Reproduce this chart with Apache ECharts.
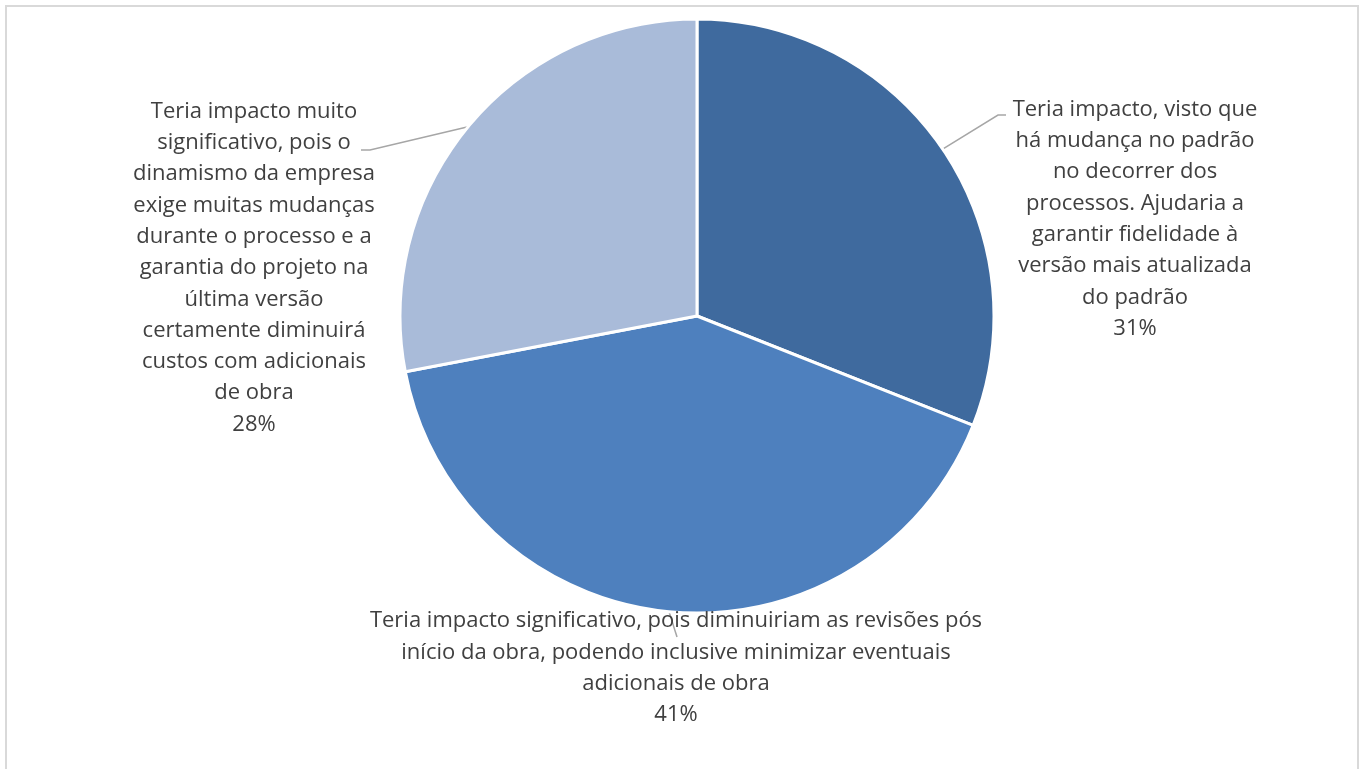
<!DOCTYPE html>
<html>
<head>
<meta charset="utf-8">
<script src="https://cdn.jsdelivr.net/npm/echarts@6/dist/echarts.min.js"></script>
<style>
  html, body { margin: 0; padding: 0; background: #ffffff; }
  #chart { width: 1363px; height: 769px; }
</style>
</head>
<body>
<div id="chart"></div>
<script>
// Answer categories (line breaks follow the wrapped label text)
const categories = [
  'Teria impacto, visto que\nhá mudança no padrão\nno decorrer dos\nprocessos. Ajudaria a\ngarantir fidelidade à\nversão mais atualizada\ndo padrão',
  'Teria impacto significativo, pois diminuiriam as revisões pós\ninício da obra, podendo inclusive minimizar eventuais\nadicionais de obra',
  'Teria impacto muito\nsignificativo, pois o\ndinamismo da empresa\nexige muitas mudanças\ndurante o processo e a\ngarantia do projeto na\núltima versão\ncertamente diminuirá\ncustos com adicionais\nde obra'
];
// Share of responses (%)
const shares = [31, 41, 28];
const sliceColors = ['#3f6a9e', '#4e80be', '#a9bbd9'];

// Label anchor (centre of text block) and leader-line bend points, per slice
const labelPlacement = [
  { x: 1135, y: 219, line: [[998, 115], [1006, 115]] },
  { x: 676, y: 668, line: [[677, 637]] },
  { x: 254, y: 268, line: [[370, 150], [361, 150]] }
];

const chart = echarts.init(document.getElementById('chart'), null, { renderer: 'canvas' });

chart.setOption({
  backgroundColor: '#ffffff',
  animation: false,
  graphic: [{
    type: 'rect',
    shape: { x: 6, y: 6, width: 1352, height: 800 },
    style: { fill: 'none', stroke: '#d9d9d9', lineWidth: 2 },
    silent: true,
    z: -1
  }],
  series: [{
    type: 'pie',
    center: [697, 316],
    radius: 297,
    startAngle: 90,
    clockwise: true,
    data: categories.map((name, i) => ({
      name: name,
      value: shares[i],
      itemStyle: { color: sliceColors[i] }
    })),
    itemStyle: { borderColor: '#ffffff', borderWidth: 3 },
    label: {
      show: true,
      position: 'outside',
      formatter: p => p.name + '\n' + p.value + '%',
      color: '#404040',
      fontFamily: 'Open Sans',
      fontSize: 22,
      lineHeight: 31.3,
      align: 'center'
    },
    labelLine: {
      show: true,
      lineStyle: { color: '#a6a6a6', width: 1.5 }
    },
    labelLayout: function (params) {
      const lp = labelPlacement[params.dataIndex];
      const start = params.labelLinePoints ? params.labelLinePoints[0] : null;
      const out = {
        x: lp.x,
        y: lp.y,
        align: 'center',
        verticalAlign: 'middle'
      };
      if (start) {
        out.labelLinePoints = [start].concat(lp.line);
      }
      return out;
    },
    emphasis: { disabled: true }
  }]
});
</script>
</body>
</html>
